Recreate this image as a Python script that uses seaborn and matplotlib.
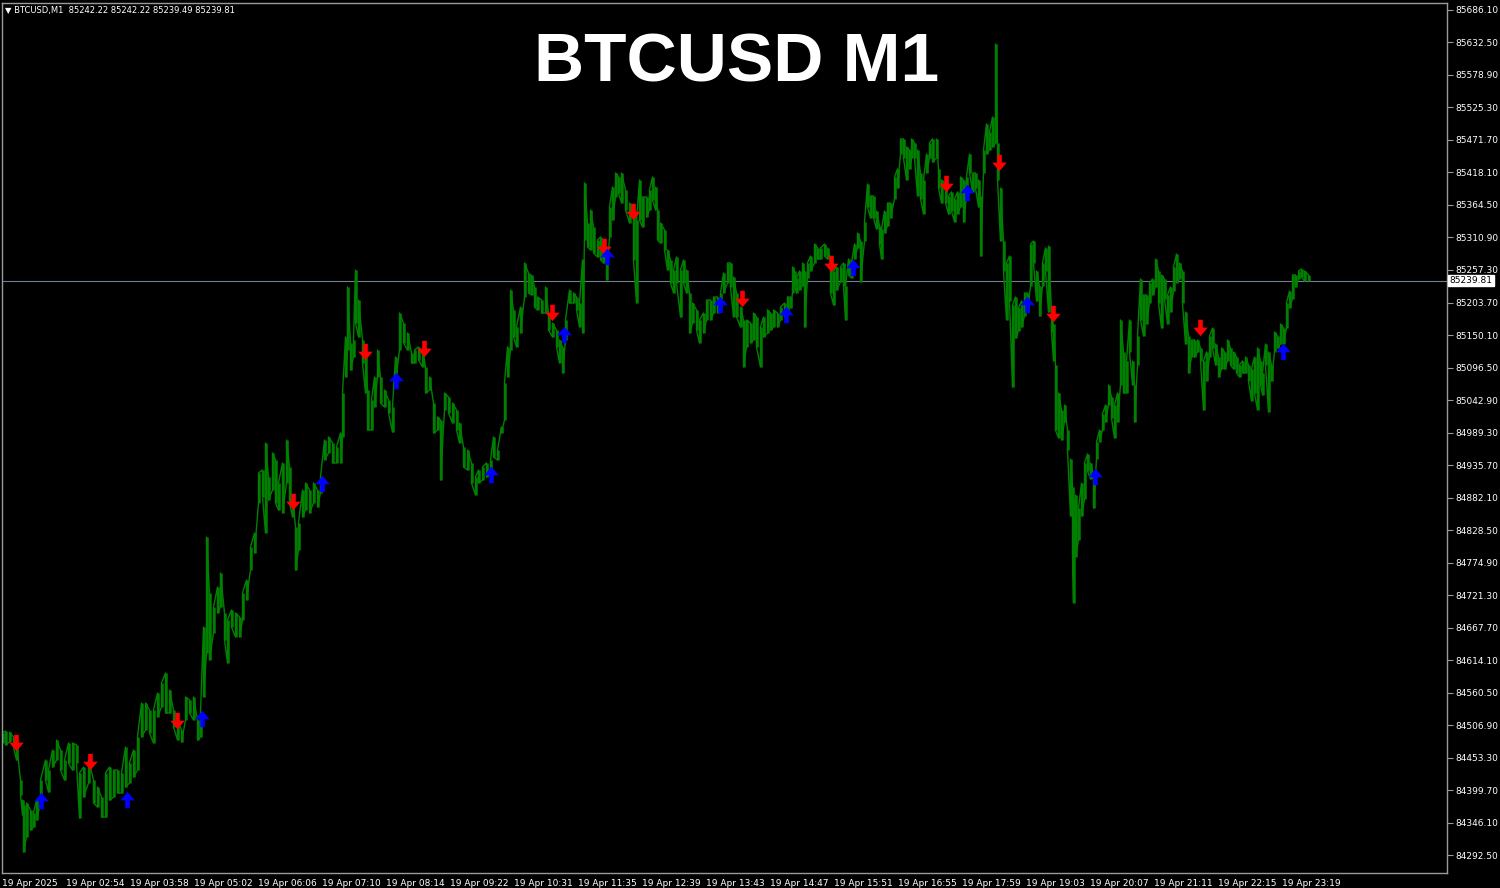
import pandas as pd
import matplotlib
matplotlib.use("Agg")
import matplotlib.pyplot as plt
import seaborn as sns
from matplotlib.path import Path

# --- price data (bar index = minutes from first bar) ---
bars_1 = [0, 3, 7, 11, 14, 18, 20, 21, 24, 28, 31, 34, 38, 43, 46, 50, 54, 58, 62, 66,
          70, 74, 77, 81, 86, 91, 95, 99, 103, 107, 111, 115, 119, 123, 127, 131, 135, 139, 143, 147,
          151, 155, 159, 163, 167, 171, 175, 179, 183, 187, 191, 195, 198, 201, 204, 207, 211, 215, 218, 222,
          225, 229, 233, 237, 240, 244, 248, 252, 256, 260, 263, 266]
highs_1 = [84493.8, 84497.1, 84495.4, 84487.2, 84477.3, 84416.2, 84383.2, 84374.9, 84378.3, 84366.7,
           84361.8, 84383.2, 84416.2, 84449.2, 84432.7, 84465.7, 84482.2, 84465.7, 84449.2, 84477.3,
           84477.3, 84474.0, 84427.8, 84437.6, 84449.2, 84416.2, 84404.7, 84388.1, 84427.8, 84437.6,
           84432.7, 84432.7, 84427.8, 84470.7, 84444.3, 84465.7, 84487.2, 84543.3, 84543.3, 84531.7,
           84531.7, 84559.7, 84576.2, 84592.7, 84564.7, 84531.7, 84515.2, 84498.7, 84553.1, 84548.2,
           84553.1, 84515.2, 84526.8, 84668.6, 84817.0, 84724.7, 84701.6, 84734.6, 84757.6, 84691.7,
           84680.1, 84696.6, 84691.7, 84685.1, 84724.7, 84746.1, 84800.6, 84823.6, 84922.6, 84927.5,
           84972.0, 84916.0]
lows_1 = [84477.3, 84474.0, 84478.9, 84470.7, 84449.2, 84391.5, 84358.5, 84297.5, 84322.2, 84333.8,
          84338.7, 84350.3, 84378.3, 84416.2, 84396.4, 84437.6, 84449.2, 84432.7, 84416.2, 84444.3,
          84432.7, 84444.3, 84353.5, 84388.1, 84411.3, 84378.3, 84371.6, 84355.2, 84355.2, 84383.2,
          84388.1, 84394.8, 84394.8, 84404.7, 84411.3, 84421.2, 84432.7, 84487.2, 84498.7, 84493.8,
          84477.3, 84520.2, 84536.6, 84526.8, 84526.8, 84503.6, 84482.2, 84478.9, 84515.2, 84526.8,
          84515.2, 84482.2, 84487.2, 84553.1, 84625.7, 84614.1, 84658.7, 84691.7, 84701.6, 84647.1,
          84609.2, 84668.6, 84652.1, 84652.1, 84680.1, 84713.1, 84762.6, 84790.6, 84873.1, 84883.0,
          84823.6, 84878.0]

bars_2 = [270, 273, 276, 280, 284, 287, 290, 293, 296, 300, 303, 307, 311, 315, 318, 322, 326, 330, 334, 338,
          340, 343, 345, 348, 351, 353, 356, 360, 363, 365, 369, 372, 375, 378, 382, 386, 390, 393, 397, 401,
          405, 409, 412, 416, 420, 423, 427, 431, 435, 438, 442, 446, 450, 454, 457, 461, 465, 469, 473, 476,
          480, 484, 488, 491, 495, 499, 502, 505, 508, 511, 514, 518, 522, 526]
highs_2 = [84955.6, 84944.0, 84906.1, 84939.1, 84977.0, 84932.4, 84883.0, 84833.5, 84840.1, 84894.5,
           84906.1, 84894.5, 84906.1, 84894.5, 84916.0, 84977.0, 84981.9, 84972.0, 84965.4, 84988.5,
           85054.5, 85146.9, 85229.4, 85137.0, 85141.9, 85257.3, 85207.8, 85141.9, 85113.9, 85059.4,
           85042.9, 85080.9, 85125.4, 85080.9, 85059.4, 85042.9, 85031.4, 85113.9, 85186.4, 85169.9,
           85153.5, 85120.5, 85125.4, 85130.4, 85125.4, 85097.4, 85080.9, 85038.0, 85014.9, 85009.9,
           85054.5, 85047.9, 85038.0, 85026.4, 85005.0, 84965.4, 84960.5, 84939.1, 84916.0, 84927.5,
           84932.4, 84939.1, 84944.0, 84981.9, 84960.5, 84998.4, 85071.0, 85130.4, 85224.3, 85191.4,
           85163.3, 85196.3, 85268.9, 85252.4]
lows_2 = [84894.5, 84873.1, 84861.5, 84856.6, 84906.1, 84873.1, 84850.0, 84762.6, 84795.5, 84850.0,
          84861.5, 84856.6, 84873.1, 84866.4, 84889.6, 84944.0, 84955.6, 84939.1, 84939.1, 84939.1,
          84981.9, 85080.9, 85125.4, 85092.4, 85113.9, 85169.9, 85146.9, 85104.0, 85054.5, 84993.4,
          84993.4, 85031.4, 85080.9, 85038.0, 85031.4, 85021.5, 84990.1, 85071.0, 85125.4, 85137.0,
          85125.4, 85104.0, 85104.0, 85108.9, 85097.4, 85054.5, 85059.4, 84988.5, 84993.4, 84911.0,
          85026.4, 85021.5, 85005.0, 84993.4, 84972.0, 84932.4, 84927.5, 84906.1, 84886.3, 84906.1,
          84911.0, 84916.0, 84922.6, 84948.9, 84944.0, 84988.5, 85009.9, 85080.9, 85125.4, 85146.9,
          85130.4, 85153.5, 85212.8, 85219.4]

bars_3 = [529, 532, 535, 539, 543, 546, 550, 554, 557, 560, 563, 567, 571, 574, 577, 580, 582, 585, 588, 591,
          595, 598, 601, 604, 607, 610, 613, 616, 619, 623, 627, 631, 634, 637, 640, 644, 647, 650, 653, 655,
          658, 662, 665, 668, 671, 674, 678, 681, 684, 687, 690, 694, 697, 701, 704, 708, 711, 715, 718, 721,
          725, 728, 731, 734, 738, 741, 744, 748, 751, 754, 758, 761, 765, 768, 771, 775, 778, 782, 785]
highs_3 = [85249.1, 85229.4, 85212.8, 85207.8, 85229.4, 85186.4, 85169.9, 85158.4, 85141.9, 85130.4,
           85174.9, 85224.3, 85219.4, 85212.8, 85202.9, 85273.8, 85400.8, 85334.9, 85356.3, 85328.3,
           85306.8, 85311.8, 85301.9, 85278.8, 85361.2, 85394.2, 85417.3, 85410.7, 85417.3, 85389.3,
           85367.8, 85351.3, 85339.8, 85405.7, 85377.7, 85377.7, 85389.3, 85410.7, 85394.2, 85356.3,
           85334.9, 85323.3, 85290.3, 85273.8, 85257.3, 85278.8, 85257.3, 85273.8, 85257.3, 85219.4,
           85202.9, 85191.4, 85174.9, 85186.4, 85207.8, 85207.8, 85212.8, 85212.8, 85219.4, 85252.4,
           85268.9, 85268.9, 85245.8, 85219.4, 85196.3, 85174.9, 85174.9, 85169.9, 85186.4, 85179.8,
           85163.3, 85179.8, 85191.4, 85186.4, 85191.4, 85186.4, 85196.3, 85202.9, 85212.8]
lows_3 = [85216.1, 85196.3, 85191.4, 85186.4, 85186.4, 85158.4, 85146.9, 85130.4, 85104.0, 85087.5,
          85141.9, 85202.9, 85202.9, 85191.4, 85163.3, 85153.5, 85306.8, 85295.3, 85290.3, 85285.4,
          85278.8, 85273.8, 85268.9, 85240.8, 85311.8, 85339.8, 85377.7, 85384.3, 85367.8, 85356.3,
          85334.9, 85273.8, 85202.9, 85339.8, 85328.3, 85344.7, 85356.3, 85372.8, 85356.3, 85306.8,
          85301.9, 85290.3, 85257.3, 85235.9, 85219.4, 85235.9, 85179.8, 85235.9, 85219.4, 85153.5,
          85169.9, 85158.4, 85137.0, 85153.5, 85174.9, 85174.9, 85186.4, 85186.4, 85196.3, 85219.4,
          85235.9, 85229.4, 85179.8, 85179.8, 85163.3, 85097.4, 85130.4, 85137.0, 85141.9, 85130.4,
          85097.4, 85146.9, 85153.5, 85158.4, 85163.3, 85163.3, 85174.9, 85179.8, 85186.4]

bars_4 = [788, 790, 792, 794, 797, 800, 802, 805, 808, 812, 815, 818, 822, 825, 828, 831, 834, 838, 841, 843,
          846, 849, 852, 855, 858, 862, 865, 868, 871, 874, 877, 879, 882, 885, 888, 892, 895, 898, 901, 904,
          907, 909, 912, 915, 918, 921, 924, 927, 930, 934, 936, 939, 943, 946, 949, 952, 955, 958, 961, 964,
          967, 970, 973, 976, 978, 981, 984, 987, 990, 993, 995, 998, 1001, 1004, 1007, 1010, 1013, 1016, 1019, 1022,
          1025, 1028, 1031, 1034, 1037, 1040, 1043, 1046]
highs_4 = [85212.8, 85262.2, 85255.7, 85244.1, 85255.7, 85268.9, 85255.7, 85268.9, 85280.4, 85300.2,
           85293.6, 85293.6, 85300.2, 85293.6, 85275.5, 85255.7, 85262.2, 85262.2, 85268.9, 85230.9,
           85275.5, 85268.9, 85300.2, 85318.3, 85305.2, 85336.5, 85399.1, 85379.4, 85379.4, 85354.6,
           85329.9, 85324.9, 85354.6, 85367.8, 85367.8, 85410.7, 85423.9, 85473.4, 85473.4, 85460.2,
           85455.2, 85473.4, 85466.8, 85455.2, 85417.3, 85405.7, 85448.6, 85466.8, 85473.4, 85473.4,
           85423.9, 85405.7, 85399.1, 85379.4, 85386.0, 85374.4, 85386.0, 85410.7, 85405.7, 85410.7,
           85448.6, 85417.3, 85417.3, 85405.7, 85379.4, 85455.2, 85498.1, 85484.9, 85509.6, 85630.0,
           85466.8, 85392.5, 85305.2, 85268.9, 85280.4, 85199.6, 85212.8, 85194.7, 85206.2, 85219.4,
           85219.4, 85300.2, 85305.2, 85255.7, 85230.9, 85268.9, 85293.6, 85296.9]
lows_4 = [85194.7, 85219.4, 85230.9, 85219.4, 85224.3, 85230.9, 85163.3, 85244.1, 85255.7, 85268.9,
          85275.5, 85275.5, 85280.4, 85275.5, 85219.4, 85199.6, 85224.3, 85237.5, 85230.9, 85174.9,
          85249.1, 85244.1, 85275.5, 85293.6, 85237.5, 85305.2, 85361.2, 85343.1, 85343.1, 85324.9,
          85300.2, 85275.5, 85318.3, 85329.9, 85343.1, 85374.4, 85392.5, 85448.6, 85442.0, 85405.7,
          85423.9, 85442.0, 85442.0, 85379.4, 85374.4, 85349.7, 85417.3, 85442.0, 85435.4, 85442.0,
          85392.5, 85367.8, 85367.8, 85349.7, 85354.6, 85336.5, 85349.7, 85361.2, 85336.5, 85379.4,
          85417.3, 85386.0, 85392.5, 85361.2, 85280.4, 85417.3, 85448.6, 85455.2, 85460.2, 85466.8,
          85405.7, 85305.2, 85255.7, 85174.9, 85206.2, 85064.4, 85145.2, 85156.7, 85163.3, 85181.5,
          85188.1, 85230.9, 85268.9, 85206.2, 85181.5, 85230.9, 85255.7, 85188.1]

bars_5 = [1049, 1051, 1053, 1056, 1059, 1062, 1065, 1068, 1070, 1071, 1073, 1076, 1079, 1082, 1085, 1088, 1091, 1094, 1097, 1100,
          1103, 1106, 1109, 1112, 1115, 1118, 1121, 1124, 1127, 1130, 1132, 1135, 1138, 1141, 1144, 1147, 1150, 1153, 1156, 1159,
          1162, 1165, 1168, 1171, 1174, 1177, 1180, 1183, 1186, 1189, 1192, 1195, 1198, 1201, 1204, 1207, 1210, 1213, 1216, 1219,
          1222, 1225, 1228, 1231, 1234, 1237, 1240, 1243, 1246, 1249, 1252, 1255, 1258, 1260, 1263, 1266, 1269, 1272, 1275, 1278,
          1281, 1284, 1287, 1290, 1293, 1296, 1299, 1302, 1306]
highs_5 = [85188.1, 85168.3, 85100.7, 85054.5, 85026.4, 85034.7, 84993.4, 84945.6, 84899.4, 84851.6,
           84886.3, 84864.8, 84906.1, 84939.1, 84953.9, 84939.1, 84919.3, 84973.7, 84993.4, 85019.8,
           85034.7, 85067.7, 85047.9, 85034.7, 85054.5, 85174.9, 85122.1, 85107.3, 85174.9, 85107.3,
           85067.7, 85148.5, 85242.5, 85216.1, 85216.1, 85235.9, 85242.5, 85275.5, 85255.7, 85249.1,
           85242.5, 85216.1, 85229.4, 85262.2, 85283.7, 85268.9, 85255.7, 85188.1, 85148.5, 85141.9,
           85141.9, 85141.9, 85128.7, 85107.3, 85122.1, 85148.5, 85161.7, 85135.3, 85113.9, 85128.7,
           85122.1, 85141.9, 85128.7, 85122.1, 85113.9, 85100.7, 85107.3, 85113.9, 85100.7, 85094.1,
           85113.9, 85128.7, 85107.3, 85087.5, 85135.3, 85122.1, 85100.7, 85155.0, 85148.5, 85168.3,
           85161.7, 85202.9, 85222.7, 85249.1, 85249.1, 85255.7, 85259.0, 85255.7, 85249.0]
lows_5 = [85155.0, 85107.3, 84993.4, 84980.3, 84977.0, 85006.6, 84960.5, 84851.6, 84792.2, 84708.2,
          84784.0, 84812.0, 84851.6, 84879.7, 84925.9, 84912.7, 84864.8, 84945.6, 84973.7, 84993.4,
          85006.6, 85034.7, 85013.3, 84980.3, 85006.6, 85067.7, 85054.5, 85054.5, 85122.1, 85067.7,
          85006.6, 85100.7, 85174.9, 85148.5, 85168.3, 85202.9, 85216.1, 85229.4, 85202.9, 85161.7,
          85209.5, 85168.3, 85188.1, 85222.7, 85235.9, 85242.5, 85202.9, 85135.3, 85087.5, 85113.9,
          85113.9, 85122.1, 85107.3, 85026.4, 85074.3, 85113.9, 85128.7, 85100.7, 85080.9, 85094.1,
          85094.1, 85107.3, 85100.7, 85094.1, 85087.5, 85080.9, 85087.5, 85087.5, 85074.3, 85041.3,
          85054.5, 85026.4, 85067.7, 85051.2, 85100.7, 85023.1, 85074.3, 85122.1, 85128.7, 85135.3,
          85135.3, 85161.7, 85194.7, 85209.5, 85229.4, 85242.5, 85245.8, 85239.2, 85239.8]

# signal arrows
sell_bars = [14, 88, 175, 291, 363, 422, 550, 602, 631, 740, 829, 944, 997, 1051, 1198]
sell_prices = [84477.3, 84445.9, 84513.5, 84874.7, 85122.1, 85127.0, 85186.4, 85295.3, 85353.0,
               85209.5, 85267.2, 85399.1, 85433.8, 85184.7, 85161.7]
buy_bars = [39, 125, 200, 320, 394, 489, 562, 605, 718, 784, 851, 965, 1025, 1093, 1281]
buy_prices = [84381.6, 84383.2, 84516.9, 84904.4, 85074.3, 84919.3, 85150.1, 85278.8, 85199.6,
              85183.1, 85260.6, 85384.3, 85199.6, 84916.0, 85122.1]

price_ticks = [85686.10, 85632.50, 85578.90, 85525.30, 85471.70, 85418.10, 85364.50, 85310.90,
               85257.30, 85203.70, 85150.10, 85096.50, 85042.90, 84989.30, 84935.70, 84882.10,
               84828.50, 84774.90, 84721.30, 84667.70, 84614.10, 84560.50, 84506.90, 84453.30,
               84399.70, 84346.10, 84292.50]
time_tick_bars = [0, 64, 128, 192, 256, 320, 384, 448, 512, 576, 640, 704, 768, 832, 896, 960,
                  1024, 1088, 1152, 1216, 1280]
time_labels = ["19 Apr 2025", "19 Apr 02:54", "19 Apr 03:58", "19 Apr 05:02", "19 Apr 06:06",
               "19 Apr 07:10", "19 Apr 08:14", "19 Apr 09:22", "19 Apr 10:31", "19 Apr 11:35",
               "19 Apr 12:39", "19 Apr 13:43", "19 Apr 14:47", "19 Apr 15:51", "19 Apr 16:55",
               "19 Apr 17:59", "19 Apr 19:03", "19 Apr 20:07", "19 Apr 21:11", "19 Apr 22:15",
               "19 Apr 23:19"]
last_price = 85239.81
header = "\u25BC BTCUSD,M1  85242.22 85242.22 85239.49 85239.81"
title = "BTCUSD M1"

bars = bars_1 + bars_2 + bars_3 + bars_4 + bars_5
highs = highs_1 + highs_2 + highs_3 + highs_4 + highs_5
lows = lows_1 + lows_2 + lows_3 + lows_4 + lows_5

df = pd.DataFrame({"bar": bars, "high": highs, "low": lows})

# zigzag through the bar ranges so each bar reads as a vertical stroke
zig = []
for i, row in df.iterrows():
    pair = [row["low"], row["high"]] if i % 2 == 0 else [row["high"], row["low"]]
    zig.append({"bar": row["bar"], "price": pair[0]})
    zig.append({"bar": row["bar"], "price": pair[1]})
zig = pd.DataFrame(zig)

signals = pd.DataFrame({
    "bar": sell_bars + buy_bars,
    "price": sell_prices + buy_prices,
    "signal": ["sell"] * len(sell_bars) + ["buy"] * len(buy_bars),
})

down_arrow = Path([(-0.14, 0.5), (0.14, 0.5), (0.14, 0.02), (0.44, 0.02), (0.0, -0.5),
                   (-0.44, 0.02), (-0.14, 0.02), (-0.14, 0.5)], closed=True)
up_arrow = Path([(x, -y) for x, y in down_arrow.vertices], closed=True)

sns.set_theme(style="dark", rc={"axes.facecolor": "black", "figure.facecolor": "black"})
plt.rcParams["font.family"] = ["DejaVu Sans"]

fig = plt.figure(figsize=(15, 8.88), dpi=100)
ax = fig.add_axes([2 / 1500, 15 / 888, 1445 / 1500, 870 / 888])
ax.set_facecolor("black")

green = "#008000"
ax.axhline(last_price, color="#6f7f8f", lw=0.8, zorder=1)
ax.vlines(df["bar"], df["low"], df["high"], color=green, lw=1.8, zorder=2)
sns.lineplot(data=zig, x="bar", y="price", sort=False, estimator=None, color=green,
             lw=1.0, ax=ax, zorder=2)

sns.scatterplot(data=signals, x="bar", y="price", hue="signal", style="signal",
                palette={"sell": "#ff0000", "buy": "#0000ff"},
                markers={"sell": down_arrow, "buy": up_arrow},
                s=140, linewidth=0, legend=False, ax=ax, zorder=3)

ax.set_xlim(-0.5, 1444.5)
ax.set_ylim(84262.9, 85697.6)

ax.yaxis.tick_right()
ax.set_yticks(price_ticks)
ax.set_yticklabels([f"{v:.2f}" for v in price_ticks])
ax.set_xticks(time_tick_bars)
ax.set_xticklabels(time_labels, ha="left")
ax.tick_params(axis="both", colors="#9a9a9a", labelcolor="white", labelsize=6.5,
               length=4, width=0.8, direction="out", pad=2)
ax.tick_params(axis="x", pad=0)
ax.set_xlabel("")
ax.set_ylabel("")
ax.grid(False)
for side in ["left", "right", "top", "bottom"]:
    ax.spines[side].set_visible(True)
    ax.spines[side].set_color("#9a9a9a")
    ax.spines[side].set_linewidth(1.0)

# current price tag on the price scale
ax.text(1.0015, last_price, f"{last_price:.2f}", transform=ax.get_yaxis_transform(),
        ha="left", va="center", fontsize=6.5, color="black",
        bbox=dict(boxstyle="square,pad=0.15", fc="white", ec="white"), zorder=5, clip_on=False)

fig.text(5 / 1500, 1 - 10 / 888, header, color="white", fontsize=6, ha="left", va="center")
fig.text(737 / 1500, 1 - 63 / 888, title, color="white", fontsize=50, fontweight="bold",
         family=["Liberation Sans", "DejaVu Sans"], ha="center", va="center")

fig.savefig("out.png", dpi=100, facecolor="black")
